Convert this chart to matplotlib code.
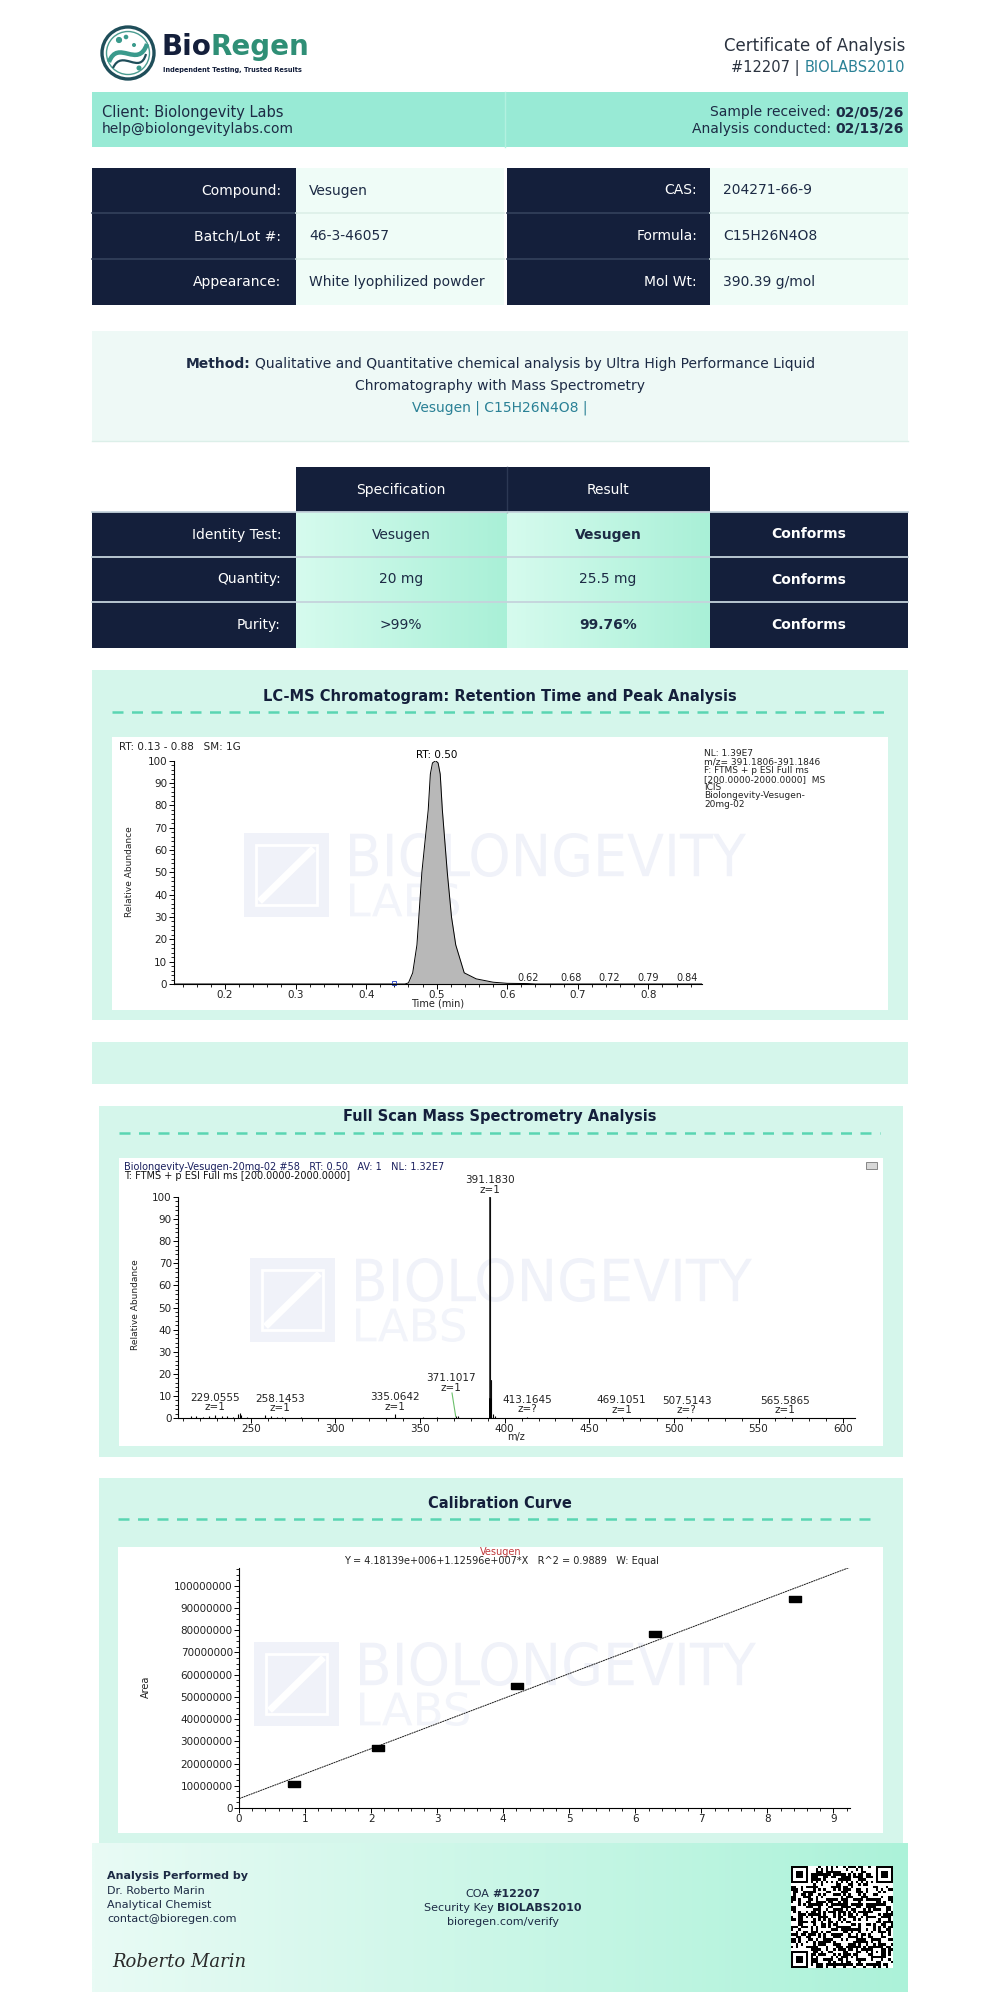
import numpy as np
import matplotlib as mpl
mpl.use('Agg')
from matplotlib import pyplot as plt
from matplotlib.patches import Rectangle, Circle, PathPatch
from matplotlib.path import Path
from matplotlib.textpath import TextPath
from matplotlib.font_manager import FontProperties
from matplotlib.transforms import Affine2D
from matplotlib.ticker import MultipleLocator, FuncFormatter

plt.rcParams['font.family'] = ['DejaVu Sans']

NAVY = '#141f3b'
INK = '#1d2b45'
TEAL = '#2a8196'
GREEN = '#2f8f76'
MINT_BAND = '#98ead5'
PANEL = '#d5f6eb'
PALE = '#effcf7'
WM = '#f0f2f9'

# ---------------- data ----------------
report_no = '#12207'
security_key = 'BIOLABS2010'
client_name = 'Biolongevity Labs'
client_mail = 'help@biolongevitylabs.com'
date_received = '02/05/26'
date_analysis = '02/13/26'

info_left_labels = ['Compound:', 'Batch/Lot #:', 'Appearance:']
info_left_values = ['Vesugen', '46-3-46057', 'White lyophilized powder']
info_right_labels = ['CAS:', 'Formula:', 'Mol Wt:']
info_right_values = ['204271-66-9', 'C15H26N4O8', '390.39 g/mol']

method_lines = ['Qualitative and Quantitative chemical analysis by Ultra High Performance Liquid',
                'Chromatography with Mass Spectrometry']
method_tag = 'Vesugen | C15H26N4O8 |'

test_names = ['Identity Test:', 'Quantity:', 'Purity:']
spec_values = ['Vesugen', '20 mg', '>99%']
result_values = ['Vesugen', '25.5 mg', '99.76%']
result_bold = [True, False, True]
verdicts = ['Conforms', 'Conforms', 'Conforms']

# chromatogram (time in min, relative abundance)
chrom_time = [0.127, 0.44, 0.455, 0.460, 0.466, 0.472, 0.479, 0.488, 0.491, 0.494, 0.4985,
              0.502, 0.505, 0.508, 0.515, 0.521, 0.527, 0.539, 0.556, 0.58, 0.60, 0.628,
              0.64, 0.876]
chrom_abund = [0, 0, 0, 0.5, 5, 17.5, 50, 78, 94, 99, 100,
               99, 94, 78, 50, 30, 17.5, 5, 2.3, 0.8, 0.3, 0.2,
               0, 0]
chrom_apex = 0.50
chrom_minor_rt = [0.62, 0.68, 0.72, 0.79, 0.84]
chrom_info = ['NL: 1.39E7', 'm/z= 391.1806-391.1846', 'F: FTMS + p ESI Full ms',
              '[200.0000-2000.0000]  MS', 'ICIS', 'Biolongevity-Vesugen-', '20mg-02']

# full scan mass spectrum
ms_mz = [214.8, 217.6, 221.9, 225.3, 229.06, 232.8, 236.1, 239.7, 242.6, 243.4, 244.2, 247.9,
         258.15, 261.8, 265.2, 268.4, 279.5, 335.06, 351.8, 359.9, 371.10, 372.6,
         391.183, 391.6, 392.186, 393.19, 394.2, 413.16, 469.11, 507.51, 565.59]
ms_int = [1.0, 0.8, 0.6, 0.9, 1.5, 0.7, 0.8, 0.6, 1.8, 2.2, 1.2, 0.5,
          1.2, 0.7, 0.5, 0.6, 0.3, 1.8, 0.4, 0.3, 1.0, 0.8,
          100, 9, 17, 2, 0.8, 0.6, 0.4, 0.3, 0.3]
ms_label_mz = [229.0555, 258.1453, 335.0642, 413.1645, 469.1051, 507.5143, 565.5865]
ms_label_z = ['z=1', 'z=1', 'z=1', 'z=?', 'z=1', 'z=?', 'z=1']
ms_base = (391.1830, 'z=1')
ms_side = (371.1017, 'z=1')

# calibration
cal_x = [0.83, 2.10, 4.21, 6.30, 8.41]
cal_area = [10.8e6, 27.2e6, 55.0e6, 78.4e6, 94.1e6]
cal_intercept = 4.18139e6
cal_slope = 1.12596e7
cal_r2 = 0.9889

analyst = ['Dr. Roberto Marin', 'Analytical Chemist', 'contact@bioregen.com']

# ---------------- page ----------------
fig = plt.figure(figsize=(10, 20), dpi=100)
bg = fig.add_axes([0, 0, 1, 1])
bg.axis('off')
renderer = fig.canvas.get_renderer()


def box(x0, y0, x1, y1, color, z=1):
    bg.add_patch(Rectangle((x0, y0), x1 - x0, y1 - y0, facecolor=color,
                           edgecolor='none', zorder=z))


def hgrad(x0, y0, x1, y1, c0, c1, z=1):
    a = np.array(mpl.colors.to_rgb(c0))
    b = np.array(mpl.colors.to_rgb(c1))
    t = np.linspace(0, 1, 128)[None, :, None]
    bg.imshow(a + (b - a) * t, extent=(x0, x1, y1, y0), aspect='auto',
              zorder=z, interpolation='bilinear')


def txt(x, y, s, size=10, **kw):
    kw.setdefault('va', 'center')
    kw.setdefault('color', INK)
    return bg.text(x, y, s, fontsize=size, zorder=10, **kw)


def rich(x, y, parts, ha='left', size=10, gap=None):
    if gap is None:
        gap = 0.32 * size * 100 / 72
    texts = [txt(0, y, s, size=size, ha='left', **st) for s, st in parts]
    ws = [t.get_window_extent(renderer).width for t in texts]
    total = sum(ws) + gap * (len(ws) - 1)
    start = {'left': x, 'right': x - total, 'center': x - total / 2}[ha]
    for t, w in zip(texts, ws):
        t.set_x(start)
        start += w + gap


def stretched(x0, y0, x1, y1, s, color, z=3):
    tp = TextPath((0, 0), s, size=100, prop=FontProperties(family='DejaVu Sans'))
    e = tp.get_extents()
    tr = (Affine2D().translate(-e.x0, -e.y0)
          .scale((x1 - x0) / e.width, -(y1 - y0) / e.height).translate(x0, y1))
    bg.add_patch(PathPatch(tr.transform_path(tp), facecolor=color,
                           edgecolor='none', zorder=z))


def watermark(x, y):
    box(x, y, x + 85, y + 84, WM, z=3)
    bg.add_patch(Rectangle((x + 12, y + 12), 61, 60, fill=False, ec='white', lw=2, zorder=3.1))
    bg.plot([x + 18, x + 67], [y + 66, y + 18], color='white', lw=5, zorder=3.1)
    stretched(x + 106, y, x + 502, y + 44, 'BIOLONGEVITY', WM)
    stretched(x + 106, y + 50, x + 215, y + 84, 'LABS', '#f2f4fa')


def dashes(x0, x1, y):
    bg.plot([x0, x1], [y, y], color='#5ad5b2', lw=1.8, dashes=(4.4, 3.4), zorder=4)


def chart_axes(x0, y0, x1, y1):
    ax = fig.add_axes([x0 / 1000, 1 - y1 / 2000, (x1 - x0) / 1000, (y1 - y0) / 2000])
    ax.set_facecolor('none')
    for s in ('top', 'right'):
        ax.spines[s].set_visible(False)
    for s in ('left', 'bottom'):
        ax.spines[s].set_linewidth(0.8)
    ax.tick_params(which='major', length=3.5, width=0.7, labelsize=7.5, pad=1,
                   labelcolor='#222222')
    ax.tick_params(which='minor', length=2, width=0.6)
    return ax


# ---- header: logo
bg.add_patch(Circle((128, 53), 26, fill=False, ec='#1f4e5a', lw=2.4, zorder=5))
bg.add_patch(Circle((128, 53), 21.5, fill=False, ec='#4a9c90', lw=1.0, zorder=5))
swirl = Path([(109, 62), (118, 38), (138, 70), (147, 44)],
             [Path.MOVETO, Path.CURVE4, Path.CURVE4, Path.CURVE4])
bg.add_patch(PathPatch(swirl, fill=False, ec='#3a9a8c', lw=3.2, zorder=6))
swirl2 = Path([(113, 68), (122, 48), (140, 76), (146, 54)],
              [Path.MOVETO, Path.CURVE4, Path.CURVE4, Path.CURVE4])
bg.add_patch(PathPatch(swirl2, fill=False, ec='#1f4e5a', lw=1.6, zorder=6))
for cx, cy, r in [(119, 40, 2.4), (126, 37, 1.6), (139, 68, 1.8), (134, 45, 1.3)]:
    bg.add_patch(Circle((cx, cy), r, color='#3a9a8c', zorder=6))
rich(161, 47, [('Bio', dict(color=NAVY, fontweight='bold')),
               ('Regen', dict(color=GREEN, fontweight='bold'))], size=20, gap=-0.5)
txt(163, 70, 'Independent Testing, Trusted Results', size=4.8, color=NAVY, fontweight='bold')

txt(905, 46, 'Certificate of Analysis', size=12, ha='right', color='#2b3340')
rich(905, 68, [(report_no + ' |', dict(color='#2b3340')), (security_key, dict(color=TEAL))],
     ha='right', size=10.5)

# ---- client band
box(92, 92, 908, 147, MINT_BAND)
bg.plot([505, 505], [92, 147], color='#b2f1e0', lw=1, zorder=2)
txt(102, 112, 'Client: ' + client_name, size=10.5)
txt(102, 129, client_mail, size=10)
rich(904, 112, [('Sample received:', {}), (date_received, dict(fontweight='bold'))],
     ha='right', size=10)
rich(904, 129, [('Analysis conducted:', {}), (date_analysis, dict(fontweight='bold'))],
     ha='right', size=10)

# ---- compound info table
row_y = [168, 213, 259, 305]
for i in range(3):
    y0, y1 = row_y[i], row_y[i + 1]
    box(92, y0, 296, y1, NAVY)
    box(296, y0, 504, y1, PALE)
    box(507, y0, 710, y1, NAVY)
    box(710, y0, 908, y1, PALE)
    yc = (y0 + y1) / 2
    txt(281, yc, info_left_labels[i], ha='right', color='white')
    txt(309, yc, info_left_values[i])
    txt(697, yc, info_right_labels[i], ha='right', color='white')
    txt(723, yc, info_right_values[i])
for y in row_y[1:-1]:
    for xa, xb, c in [(92, 296, '#34415c'), (296, 504, '#dcefe8'),
                      (507, 710, '#34415c'), (710, 908, '#dcefe8')]:
        bg.plot([xa, xb], [y, y], color=c, lw=1.2, zorder=2)

# ---- method box
box(92, 331, 908, 441, '#eef9f6')
bg.plot([92, 908], [441, 441], color='#dcefe9', lw=1, zorder=2)
rich(500, 364, [('Method:', dict(fontweight='bold')), (method_lines[0], {})],
     ha='center', size=10)
txt(500, 386, method_lines[1], ha='center')
txt(500, 408, method_tag, ha='center', color=TEAL)

# ---- results table
box(296, 467, 507, 512, NAVY)
box(507, 467, 710, 512, NAVY)
bg.plot([507, 507], [467, 512], color='#2c3854', lw=1, zorder=2)
txt(401, 490, 'Specification', ha='center', color='white')
txt(608, 490, 'Result', ha='center', color='white')
res_y = [512, 557, 602, 648]
for i in range(3):
    y0, y1 = res_y[i], res_y[i + 1]
    box(92, y0, 296, y1, NAVY)
    hgrad(296, y0, 507, y1, '#d6fbee', '#a9f0d7')
    hgrad(507, y0, 710, y1, '#d6fbee', '#a9f0d7')
    box(710, y0, 908, y1, NAVY)
    yc = (y0 + y1) / 2
    txt(281, yc, test_names[i], ha='right', color='white')
    txt(401, yc, spec_values[i], ha='center')
    txt(608, yc, result_values[i], ha='center',
        fontweight='bold' if result_bold[i] else 'normal')
    txt(809, yc, verdicts[i], ha='center', color='white', fontweight='bold')
for y in res_y[:-1]:
    bg.plot([92, 908], [y, y], color='#c5d3dc', lw=1.3, zorder=2)

# ---- section panels
box(92, 670, 908, 1020, PANEL)
txt(500, 696, 'LC-MS Chromatogram: Retention Time and Peak Analysis', size=10.5,
    ha='center', color=NAVY, fontweight='bold')
dashes(112, 889, 712)
box(112, 737, 888, 1010, 'white', z=2)
watermark(244, 833)

box(92, 1042, 908, 1084, PANEL)

box(99, 1106, 903, 1457, PANEL)
txt(500, 1117, 'Full Scan Mass Spectrometry Analysis', size=10.5,
    ha='center', color=NAVY, fontweight='bold')
dashes(119, 880, 1133)
box(119, 1158, 883, 1446, 'white', z=2)
watermark(250, 1258)

box(99, 1478, 903, 1843, PANEL)
txt(500, 1504, 'Calibration Curve', size=10.5, ha='center', color=NAVY, fontweight='bold')
dashes(118, 878, 1519)
box(118, 1547, 883, 1833, 'white', z=2)
watermark(254, 1642)

# ---- footer
hgrad(92, 1843, 908, 1992, '#e9fbf5', '#acf2d9')
txt(107, 1876, 'Analysis Performed by', size=8, fontweight='bold')
for k, line in enumerate(analyst):
    txt(107, 1891 + 14 * k, line, size=8)
txt(112, 1962, 'Roberto Marin', size=13, family='DejaVu Serif', style='italic',
    color='#2a2a2a', fontweight='light')
rich(503, 1894, [('COA', {}), (report_no, dict(fontweight='bold'))], ha='center', size=8)
rich(503, 1908, [('Security Key', {}), (security_key, dict(fontweight='bold'))],
     ha='center', size=8)
txt(503, 1922, 'bioregen.com/verify', size=8, ha='center')


def qr_matrix(payload, n=41):
    m = np.zeros((n, n), dtype=int)
    res = np.zeros((n, n), dtype=bool)
    for r, c in [(0, 0), (0, n - 7), (n - 7, 0)]:
        for i in range(-1, 8):
            for j in range(-1, 8):
                rr, cc = r + i, c + j
                if 0 <= rr < n and 0 <= cc < n:
                    res[rr, cc] = True
                    if 0 <= i <= 6 and 0 <= j <= 6:
                        m[rr, cc] = int(i in (0, 6) or j in (0, 6) or (2 <= i <= 4 and 2 <= j <= 4))
    for k in range(8, n - 8):
        m[6, k] = m[k, 6] = (k + 1) % 2
        res[6, k] = res[k, 6] = True
    a = n - 9
    for i in range(5):
        for j in range(5):
            m[a + i, a + j] = int(i in (0, 4) or j in (0, 4) or (i == 2 and j == 2))
            res[a + i, a + j] = True
    bits = ''.join(f'{b:08b}' for b in payload.encode())
    k = 0
    for c in range(n - 1, -1, -1):
        for r in range(n):
            rr = r if c % 2 else n - 1 - r
            if not res[rr, c]:
                mask = ((rr * c) % 2 + (rr * c) % 3) == 0
                m[rr, c] = int(bits[k % len(bits)]) ^ int(mask)
                k += 1
    return m


qr = qr_matrix('https://bioregen.com/verify?coa=12207&key=BIOLABS2010&lot=46-3-46057'
               '&client=Biolongevity+Labs&compound=Vesugen&cas=204271-66-9')
bg.imshow(1 - qr, cmap='gray', vmin=0, vmax=1, extent=(791, 893, 1968, 1866),
          interpolation='nearest', zorder=5)

bg.set_xlim(0, 1000)
bg.set_ylim(2000, 0)

# ---------------- chromatogram ----------------
ax = chart_axes(173.5, 760.7, 702, 984)
ax.fill_between(chrom_time, chrom_abund, color='#b8b8b8', lw=0)
ax.plot(chrom_time, chrom_abund, color='black', lw=0.7)
ax.plot([0.44], [0.3], marker='s', ms=3, mfc='none', mec='#3550c8', mew=0.7, clip_on=False)
ax.set_xlim(0.127, 0.876)
ax.set_ylim(0, 100)
ax.xaxis.set_major_locator(MultipleLocator(0.1))
ax.xaxis.set_minor_locator(MultipleLocator(0.02))
ax.yaxis.set_major_locator(MultipleLocator(10))
ax.yaxis.set_minor_locator(MultipleLocator(2))
ax.xaxis.set_major_formatter(FuncFormatter(lambda v, p: f'{v:.1f}'))
ax.text(chrom_apex, 100.5, f'RT: {chrom_apex:.2f}', ha='center', va='bottom', fontsize=7.5,
        clip_on=False)
prev = -1
for rt in chrom_minor_rt:
    pos = max(rt + 0.01, prev + 0.055)
    prev = pos
    ax.text(pos, 0.6, f'{rt:.2f}', ha='center', va='bottom', fontsize=7, color='#222222')
txt(119, 747, 'RT: 0.13 - 0.88   SM: 1G', size=7.5, color='#222222')
for k, line in enumerate(chrom_info):
    txt(704, 754 + 8.4 * k, line, size=6.5, color='#222222')
txt(130, 872, 'Relative Abundance', size=6.5, rotation=90, ha='center', color='#222222')
txt(438, 1004, 'Time (min)', size=7, ha='center', color='#222222')

# ---------------- mass spectrum ----------------
ax = chart_axes(178, 1197, 855, 1418)
ax.vlines(ms_mz, 0, ms_int, color='black', lw=0.8)
big = [i for i, v in enumerate(ms_int) if v >= 5]
ax.vlines([ms_mz[i] for i in big], 0, [ms_int[i] for i in big], color='#111111', lw=1.1)
ax.vlines([391.6], 0, [9], color='black', lw=2)
ax.set_xlim(207, 607)
ax.set_ylim(0, 100)
ax.xaxis.set_major_locator(MultipleLocator(50))
ax.xaxis.set_minor_locator(MultipleLocator(10))
ax.yaxis.set_major_locator(MultipleLocator(10))
ax.yaxis.set_minor_locator(MultipleLocator(2))
prev = -100
for mz, z in zip(ms_label_mz, ms_label_z):
    i = int(np.argmin(np.abs(np.array(ms_mz) - mz)))
    pos = max(mz, prev + 38)
    prev = pos
    ax.text(pos, ms_int[i] + 1, f'{mz:.4f}\n{z}', ha='center', va='bottom', fontsize=7.5,
            linespacing=0.95, color='#222222', clip_on=False)
ax.text(ms_base[0], 101, f'{ms_base[0]:.4f}\n{ms_base[1]}', ha='center', va='bottom',
        fontsize=7.5, linespacing=0.95, color='#222222', clip_on=False)
ax.text(ms_side[0] - 2.6, 11.5, f'{ms_side[0]:.4f}\n{ms_side[1]}', ha='center', va='bottom',
        fontsize=7.5, linespacing=0.95, color='#222222')
ax.plot([ms_side[0] - 2.2, ms_side[0]], [11.3, 0.6], color='#6cc06c', lw=0.8)
txt(124, 1167, 'Biolongevity-Vesugen-20mg-02 #58   RT: 0.50   AV: 1   NL: 1.32E7', size=7,
    color='#1a1f5e')
txt(124, 1176, 'T: FTMS + p ESI Full ms [200.0000-2000.0000]', size=7, color='#111111')
txt(135, 1305, 'Relative Abundance', size=6.5, rotation=90, ha='center', color='#222222')
txt(516, 1437, 'm/z', size=7, ha='center', color='#222222')
bg.add_patch(Rectangle((866, 1162), 11, 7, facecolor='#d8d8d8', edgecolor='#777777',
                       lw=0.6, zorder=6))

# ---------------- calibration ----------------
ax = chart_axes(239, 1568, 850, 1808)
xs = np.array([0, 9.25])
ax.plot(xs, cal_intercept + cal_slope * xs, color='#1a1a1a', lw=0.7, linestyle=(0, (2, 0.6)))
rect = [(-1, -0.5), (1, -0.5), (1, 0.5), (-1, 0.5), (-1, -0.5)]
ax.plot(cal_x, cal_area, linestyle='none', marker=rect, ms=8, color='black')
ax.set_xlim(0, 9.25)
ax.set_ylim(0, 108e6)
ax.xaxis.set_major_locator(MultipleLocator(1))
ax.xaxis.set_minor_locator(MultipleLocator(0.2))
ax.yaxis.set_major_locator(MultipleLocator(10e6))
ax.yaxis.set_minor_locator(MultipleLocator(2.5e6))
ax.yaxis.set_major_formatter(FuncFormatter(lambda v, p: f'{v:.0f}'))
txt(501, 1552, 'Vesugen', size=7, ha='center', color='#c0393b')
txt(501, 1561, f'Y = {cal_intercept:.5e}+{cal_slope:.5e}*X   R^2 = {cal_r2}   W: Equal'
    .replace('e+06', 'e+006').replace('e+07', 'e+007'), size=7, ha='center', color='#222222')
txt(146, 1687, 'Area', size=7, rotation=90, ha='center', color='#222222')

fig.savefig('out.png', dpi=100)
